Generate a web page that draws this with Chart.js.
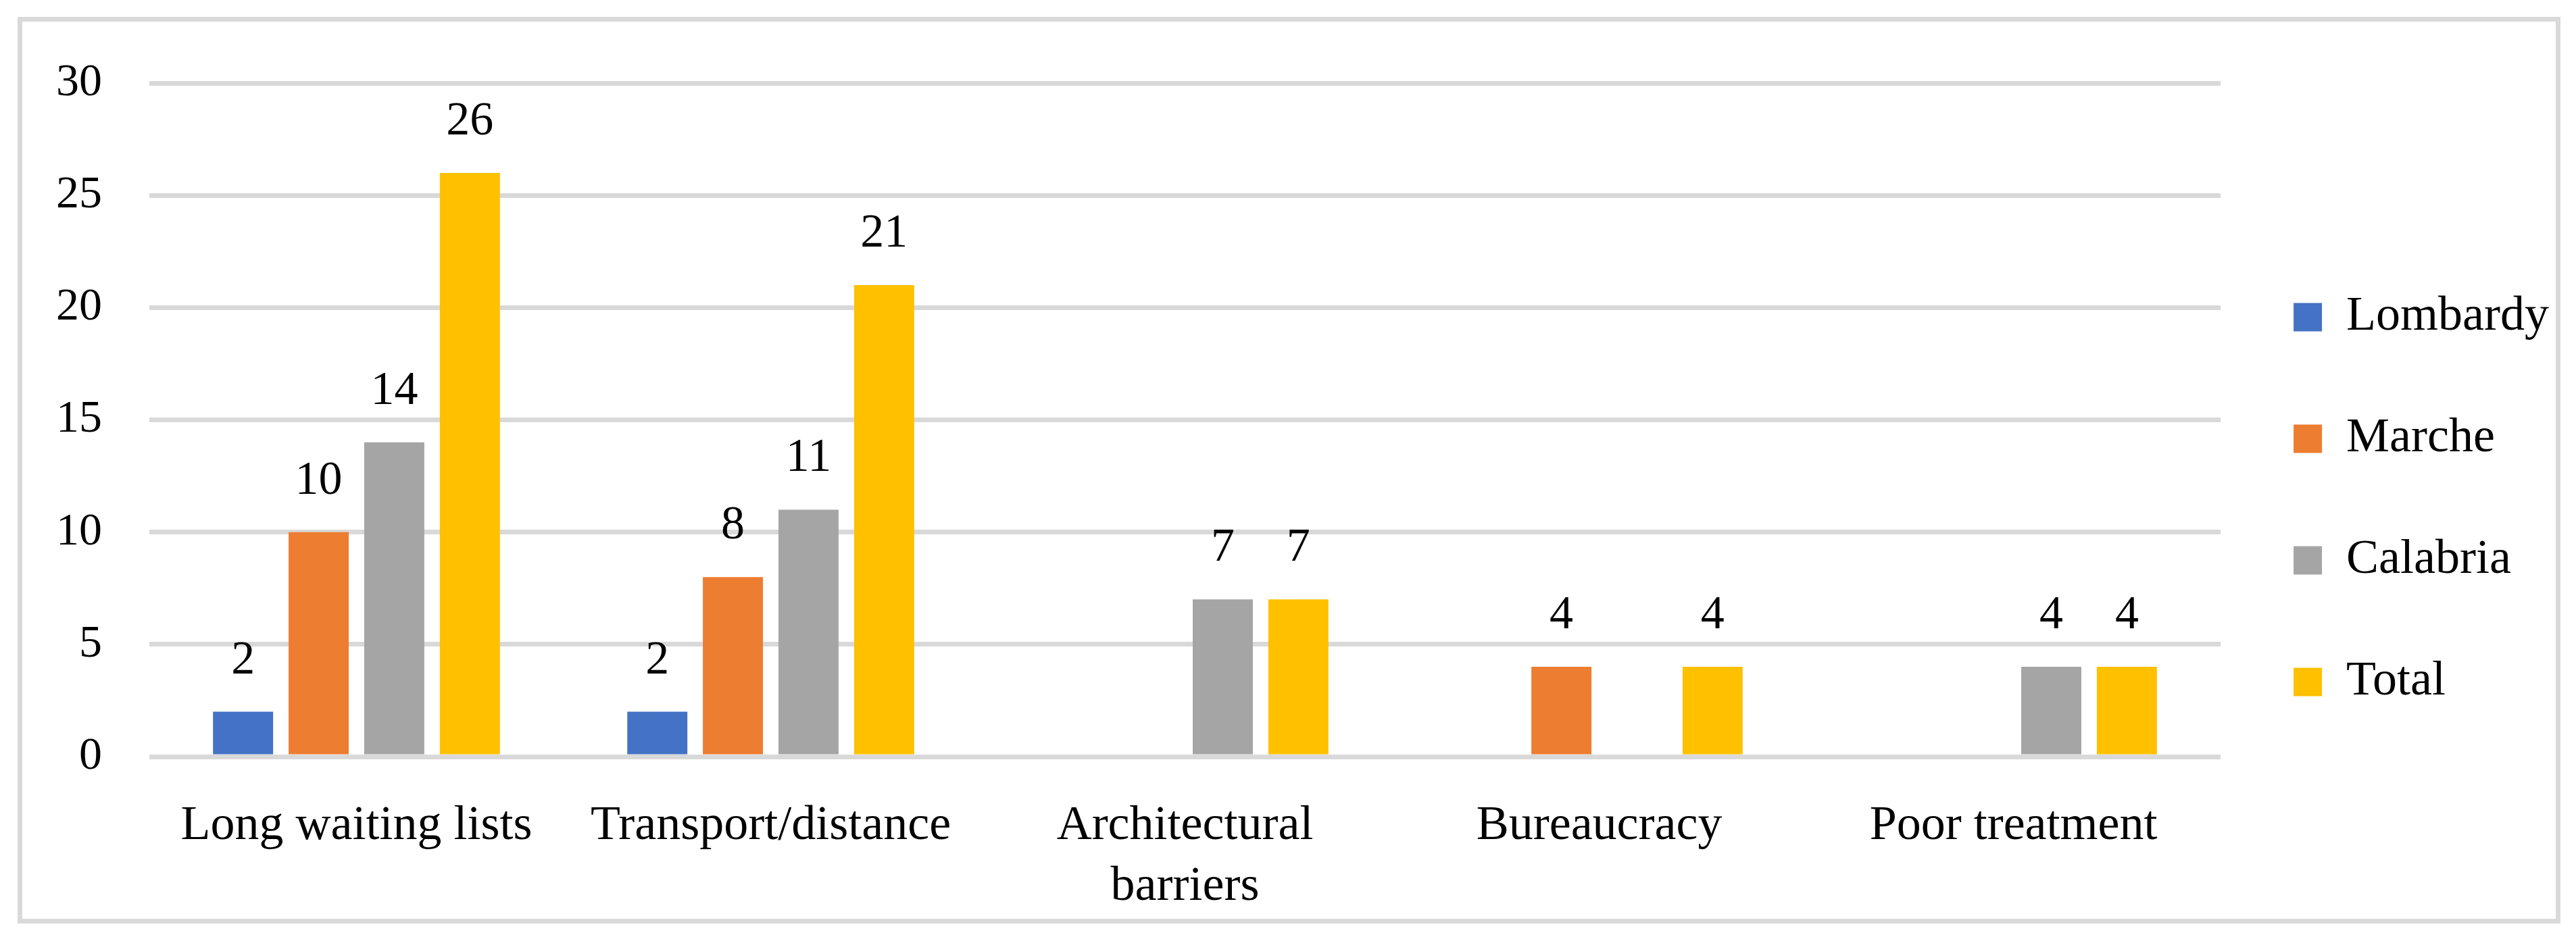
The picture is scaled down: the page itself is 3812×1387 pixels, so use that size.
<!DOCTYPE html>
<html>
<head>
<meta charset="utf-8">
<script src="https://cdn.jsdelivr.net/npm/chart.js@4"></script>
<style>
  body { margin: 0; background: #fff; }
  #frame { position: absolute; left: 26px; top: 25px; width: 3763px; height: 1342px; border: 7px solid #D9D9D9; box-sizing: border-box; }
  #myChart { position: absolute; left: 0; top: 0; }
</style>
</head>
<body>
<div id="frame"></div>
<canvas id="myChart" width="3812" height="1387"></canvas>
<script>
var categories = ['Long waiting lists', 'Transport/distance', ['Architectural', 'barriers'], 'Bureaucracy', 'Poor treatment'];
var lombardy = [2, 2, 0, 0, 0];
var marche = [10, 8, 0, 4, 0];
var calabria = [14, 11, 7, 0, 4];
var total = [26, 21, 7, 4, 4];
var yTicks = [0, 5, 10, 15, 20, 25, 30];

var fontFamily = '"Liberation Serif", "Times New Roman", serif';

// value labels above each non-empty bar
var barLabels = {
  id: 'barLabels',
  afterDatasetsDraw: function(chart) {
    var ctx = chart.ctx;
    ctx.save();
    ctx.font = '70px ' + fontFamily;
    ctx.fillStyle = '#000';
    ctx.textAlign = 'center';
    ctx.textBaseline = 'alphabetic';
    chart.data.datasets.forEach(function(ds, i) {
      var meta = chart.getDatasetMeta(i);
      meta.data.forEach(function(bar, j) {
        if (!ds.data[j]) return;
        ctx.fillText(ds.data[j], bar.x, bar.y - 57);
      });
    });
    ctx.restore();
  }
};

var ctx = document.getElementById('myChart').getContext('2d');
var myChart = new Chart(ctx, {
  type: 'bar',
  data: {
    labels: categories,
    datasets: [
      { label: 'Lombardy', data: lombardy, backgroundColor: '#4472C4' },
      { label: 'Marche', data: marche, backgroundColor: '#ED7D31' },
      { label: 'Calabria', data: calabria, backgroundColor: '#A5A5A5' },
      { label: 'Total', data: total, backgroundColor: '#FFC000' }
    ]
  },
  options: {
    responsive: false,
    devicePixelRatio: 1,
    animation: false,
    categoryPercentage: 0.73,
    barPercentage: 0.795,
    layout: {
      padding: { left: 13, top: 123, right: 30, bottom: 31 }
    },
    plugins: {
      tooltip: { enabled: false },
      legend: {
        position: 'right',
        labels: {
          color: '#000',
          boxWidth: 42,
          boxHeight: 42,
          padding: 108,
          font: { family: fontFamily, size: 72 }
        }
      }
    },
    scales: {
      x: {
        grid: { display: false },
        border: { display: false },
        afterFit: function(axis) { axis.height -= 52; },
        ticks: {
          color: '#000',
          padding: 50,
          maxRotation: 0,
          autoSkip: false,
          font: { family: fontFamily, size: 72, lineHeight: 1.25 }
        }
      },
      y: {
        min: yTicks[0],
        max: yTicks[yTicks.length - 1],
        afterBuildTicks: function(axis) {
          axis.ticks = yTicks.map(function(v) { return { value: v }; });
        },
        grid: { color: '#D9D9D9', lineWidth: 7, drawTicks: false },
        border: { display: false },
        ticks: {
          color: '#000',
          padding: 70,
          font: { family: fontFamily, size: 68 }
        }
      }
    }
  },
  plugins: [barLabels]
});
</script>
</body>
</html>
